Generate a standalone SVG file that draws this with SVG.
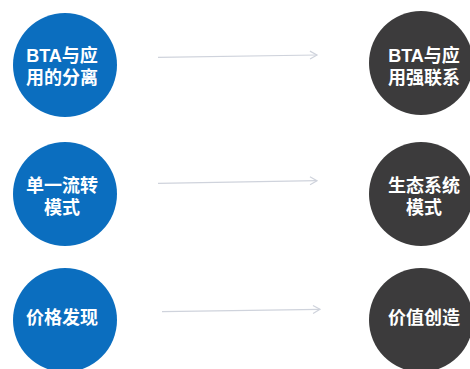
<svg xmlns="http://www.w3.org/2000/svg" width="470" height="369" viewBox="0 0 470 369">
<style>
.blue{fill:#0b6ebf}
.dark{fill:#3c3b3c}
.t{fill:#fff;font-family:"Liberation Sans","Noto Sans CJK SC",sans-serif;font-weight:bold;font-size:18px;text-anchor:middle}
.arr{stroke:#cfd3dc;stroke-width:1.2;fill:none}
</style>
<defs>
<marker id="ah" markerWidth="10" markerHeight="10" refX="8" refY="5" orient="auto" markerUnits="userSpaceOnUse">
<path d="M1,1 L8,5 L1,9" fill="none" stroke="#cfd3dc" stroke-width="1.2"/>
</marker>
</defs>
<rect width="470" height="369" fill="#fff"/>
<g id="connectors">
<line class="arr" x1="158" y1="57.3" x2="317" y2="55" marker-end="url(#ah)"/>
<line class="arr" x1="158" y1="183.3" x2="317" y2="180.7" marker-end="url(#ah)"/>
<line class="arr" x1="162" y1="311.7" x2="320" y2="309.3" marker-end="url(#ah)"/>
</g>
<g id="n1">
<circle class="blue" cx="65" cy="65" r="52"/>
<text class="t" x="62" y="62">BTA与应</text>
<text class="t" x="62" y="84">用的分离</text>
</g>
<g id="n2">
<circle class="blue" cx="65" cy="194" r="52"/>
<text class="t" x="62" y="192">单一流转</text>
<text class="t" x="62" y="214">模式</text>
</g>
<g id="n3">
<circle class="blue" cx="65" cy="320" r="52"/>
<text class="t" x="62" y="324">价格发现</text>
</g>
<g id="n4">
<circle class="dark" cx="421" cy="63" r="52"/>
<text class="t" x="424" y="62">BTA与应</text>
<text class="t" x="424" y="84">用强联系</text>
</g>
<g id="n5">
<circle class="dark" cx="421" cy="194" r="52"/>
<text class="t" x="424" y="192">生态系统</text>
<text class="t" x="424" y="214">模式</text>
</g>
<g id="n6">
<circle class="dark" cx="421" cy="320" r="52"/>
<text class="t" x="424" y="324">价值创造</text>
</g>
</svg>
